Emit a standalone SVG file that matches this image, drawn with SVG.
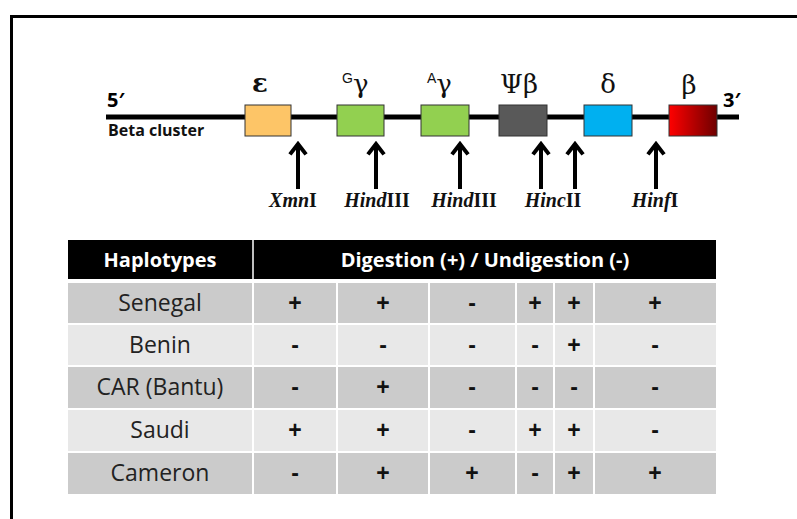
<svg xmlns="http://www.w3.org/2000/svg" width="797" height="519" viewBox="0 0 797 519">
<defs>
<linearGradient id="redg" x1="0" y1="0" x2="1" y2="0">
<stop offset="0" stop-color="#ff0000"/><stop offset="1" stop-color="#6e0000"/>
</linearGradient>
<marker id="ah" viewBox="0 0 10 10" refX="8.6" refY="5" markerWidth="4.8" markerHeight="4.8" orient="auto" markerUnits="strokeWidth">
<path d="M3.2,0.8 L8.6,5 L3.2,9.2" fill="none" stroke="#000" stroke-width="2.1" stroke-linejoin="miter"/>
</marker>
</defs>
<style>
.gene{stroke:#333;stroke-width:1}
.greek{font-family:"DejaVu Serif","Liberation Serif",serif;font-size:26px;fill:#111}
.sup{font-family:"Liberation Sans",sans-serif;font-size:14px;fill:#111}
.enz{font-family:"Liberation Serif",serif;font-size:20px;font-weight:bold;fill:#111;text-anchor:middle}
.arr{stroke:#000;stroke-width:4;fill:none}
.hd{font-family:"Open Sans","Liberation Sans",sans-serif;font-size:20px;font-weight:bold;fill:#fff;text-anchor:middle}
.cell{font-family:"Open Sans","Liberation Sans",sans-serif;font-size:23px;fill:#222;text-anchor:middle}
.sym{font-family:"Liberation Sans",sans-serif;font-size:23px;font-weight:bold;fill:#111;text-anchor:middle}
.dk{fill:#cbcbcb}.lt{fill:#e8e8e8}
</style>
<rect width="797" height="519" fill="#fff"/>
<rect x="11.5" y="16.5" width="800" height="520" fill="none" stroke="#000" stroke-width="3"/>

<g id="cluster">
<line x1="106" y1="117" x2="739" y2="117" stroke="#000" stroke-width="5"/>
<text x="107" y="107" font-family="Open Sans, Liberation Sans, sans-serif" font-size="20" font-weight="bold">5′</text>
<text x="723" y="107" font-family="Open Sans, Liberation Sans, sans-serif" font-size="20" font-weight="bold">3′</text>
<text x="108" y="136" font-family="Open Sans, Liberation Sans, sans-serif" font-size="16" font-weight="bold" fill="#111">Beta cluster</text>
</g>

<g id="gene-epsilon"><rect class="gene" x="245" y="105" width="46" height="31" fill="#fdc567"/><text class="greek" x="260" y="92" text-anchor="middle" font-size="34" font-weight="bold">ε</text></g>
<g id="gene-Ggamma"><rect class="gene" x="337" y="105" width="47" height="31" fill="#92d050"/><text x="342" y="93"><tspan class="sup" dy="-10">G</tspan><tspan class="greek" dy="10" font-size="32">γ</tspan></text></g>
<g id="gene-Agamma"><rect class="gene" x="421" y="105" width="48" height="31" fill="#92d050"/><text x="427" y="93"><tspan class="sup" dy="-10">A</tspan><tspan class="greek" dy="10" font-size="32">γ</tspan></text></g>
<g id="gene-psibeta"><rect class="gene" x="499" y="105" width="48" height="31" fill="#595959"/><text class="greek" x="519" y="93" text-anchor="middle">Ψβ</text></g>
<g id="gene-delta"><rect class="gene" x="584" y="105" width="48" height="31" fill="#00b0f0"/><text class="greek" x="608" y="93" text-anchor="middle" font-size="28">δ</text></g>
<g id="gene-beta"><rect class="gene" x="669" y="105" width="48" height="31" fill="url(#redg)"/><text class="greek" x="689" y="94" text-anchor="middle" font-size="28">β</text></g>

<g id="sites">
<line class="arr" x1="298" y1="189" x2="298" y2="144" marker-end="url(#ah)"/>
<line class="arr" x1="376" y1="189" x2="376" y2="144" marker-end="url(#ah)"/>
<line class="arr" x1="460" y1="189" x2="460" y2="144" marker-end="url(#ah)"/>
<line class="arr" x1="541" y1="189" x2="541" y2="144" marker-end="url(#ah)"/>
<line class="arr" x1="575" y1="189" x2="575" y2="144" marker-end="url(#ah)"/>
<line class="arr" x1="656" y1="189" x2="656" y2="144" marker-end="url(#ah)"/>
</g>
<g id="enzyme-labels">
<text class="enz" x="293" y="207"><tspan font-style="italic">Xmn</tspan>I</text>
<text class="enz" x="377" y="207"><tspan font-style="italic">Hind</tspan>III</text>
<text class="enz" x="464" y="207"><tspan font-style="italic">Hind</tspan>III</text>
<text class="enz" x="553" y="207"><tspan font-style="italic">Hinc</tspan>II</text>
<text class="enz" x="655" y="207"><tspan font-style="italic">Hinf</tspan>I</text>
</g>

<g id="table">
<rect x="68" y="240" width="648" height="39" fill="#000"/>
<line x1="253" y1="240" x2="253" y2="279" stroke="#fff" stroke-width="1.5"/>
<text class="hd" x="160" y="267">Haplotypes</text>
<text class="hd" x="485" y="267">Digestion (+) / Undigestion (-)</text>

<g id="row-senegal">
<rect class="dk" x="68" y="283" width="184" height="40"/><rect class="dk" x="254" y="283" width="82" height="40"/><rect class="dk" x="338" y="283" width="90" height="40"/><rect class="dk" x="430" y="283" width="85" height="40"/><rect class="dk" x="517" y="283" width="36" height="40"/><rect class="dk" x="555" y="283" width="38" height="40"/><rect class="dk" x="595" y="283" width="121" height="40"/>
<text class="cell" x="160" y="311">Senegal</text>
<text class="sym" x="295" y="311">+</text><text class="sym" x="383" y="311">+</text><text class="sym" x="472" y="311">-</text><text class="sym" x="535" y="311">+</text><text class="sym" x="574" y="311">+</text><text class="sym" x="655" y="311">+</text>
</g>
<g id="row-benin">
<rect class="lt" x="68" y="325" width="184" height="40"/><rect class="lt" x="254" y="325" width="82" height="40"/><rect class="lt" x="338" y="325" width="90" height="40"/><rect class="lt" x="430" y="325" width="85" height="40"/><rect class="lt" x="517" y="325" width="36" height="40"/><rect class="lt" x="555" y="325" width="38" height="40"/><rect class="lt" x="595" y="325" width="121" height="40"/>
<text class="cell" x="160" y="353">Benin</text>
<text class="sym" x="295" y="353">-</text><text class="sym" x="383" y="353">-</text><text class="sym" x="472" y="353">-</text><text class="sym" x="535" y="353">-</text><text class="sym" x="574" y="353">+</text><text class="sym" x="655" y="353">-</text>
</g>
<g id="row-car">
<rect class="dk" x="68" y="367" width="184" height="41"/><rect class="dk" x="254" y="367" width="82" height="41"/><rect class="dk" x="338" y="367" width="90" height="41"/><rect class="dk" x="430" y="367" width="85" height="41"/><rect class="dk" x="517" y="367" width="36" height="41"/><rect class="dk" x="555" y="367" width="38" height="41"/><rect class="dk" x="595" y="367" width="121" height="41"/>
<text class="cell" x="160" y="395">CAR (Bantu)</text>
<text class="sym" x="295" y="395">-</text><text class="sym" x="383" y="395">+</text><text class="sym" x="472" y="395">-</text><text class="sym" x="535" y="395">-</text><text class="sym" x="574" y="395">-</text><text class="sym" x="655" y="395">-</text>
</g>
<g id="row-saudi">
<rect class="lt" x="68" y="410" width="184" height="41"/><rect class="lt" x="254" y="410" width="82" height="41"/><rect class="lt" x="338" y="410" width="90" height="41"/><rect class="lt" x="430" y="410" width="85" height="41"/><rect class="lt" x="517" y="410" width="36" height="41"/><rect class="lt" x="555" y="410" width="38" height="41"/><rect class="lt" x="595" y="410" width="121" height="41"/>
<text class="cell" x="160" y="438">Saudi</text>
<text class="sym" x="295" y="438">+</text><text class="sym" x="383" y="438">+</text><text class="sym" x="472" y="438">-</text><text class="sym" x="535" y="438">+</text><text class="sym" x="574" y="438">+</text><text class="sym" x="655" y="438">-</text>
</g>
<g id="row-cameron">
<rect class="dk" x="68" y="453" width="184" height="41"/><rect class="dk" x="254" y="453" width="82" height="41"/><rect class="dk" x="338" y="453" width="90" height="41"/><rect class="dk" x="430" y="453" width="85" height="41"/><rect class="dk" x="517" y="453" width="36" height="41"/><rect class="dk" x="555" y="453" width="38" height="41"/><rect class="dk" x="595" y="453" width="121" height="41"/>
<text class="cell" x="160" y="481">Cameron</text>
<text class="sym" x="295" y="481">-</text><text class="sym" x="383" y="481">+</text><text class="sym" x="472" y="481">+</text><text class="sym" x="535" y="481">-</text><text class="sym" x="574" y="481">+</text><text class="sym" x="655" y="481">+</text>
</g>
</g>
</svg>
